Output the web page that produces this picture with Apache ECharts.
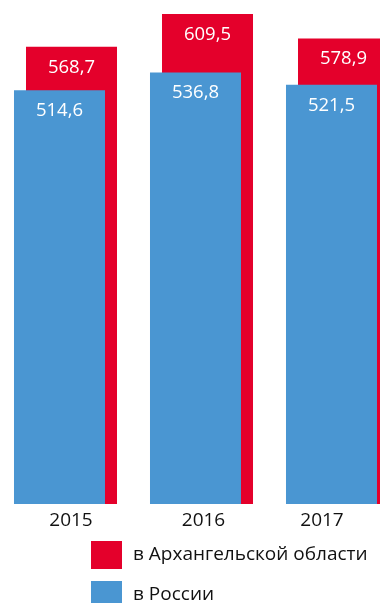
<!DOCTYPE html>
<html>
<head>
<meta charset="utf-8">
<script src="https://cdn.jsdelivr.net/npm/echarts@6/dist/echarts.min.js"></script>
<style>
html,body{margin:0;padding:0;background:#fff;}
#chart{width:380px;height:603px;}
</style>
</head>
<body>
<div id="chart"></div>
<script>
// годы и значения
const years = ['2015', '2016', '2017'];
const russia = [514.6, 536.8, 521.5];
const arkhangelsk = [568.7, 609.5, 578.9];
const seriesNames = ['в Архангельской области', 'в России'];

const RED = '#E4002B';
const BLUE = '#4A96D2';
const FONT = '"Open Sans", sans-serif';

// сдвиг подписей лет под столбцами
const yearPad = [[0, 0, 0, 11], [0, 0, 0, 4], [0, 31, 0, 0]];
const rich = {};
years.forEach((y, i) => {
	rich['y' + i] = {fontSize: 19, color: '#111', fontFamily: FONT, padding: yearPad[i]};
});

const fmt = p => p.value.toFixed(1).replace('.', ',');

function legendAt(name, top) {
	return {
		data: [name],
		left: 91,
		top: top,
		icon: 'rect',
		itemWidth: 31,
		itemHeight: 28,
		padding: 0,
		textStyle: {fontSize: 19, color: '#111', fontFamily: FONT, padding: [0, 0, 0, 6]}
	};
}

const option = {
	animation: false,
	grid: {left: -2.5, width: 408, top: 14, bottom: 99, outerBoundsMode: 'none', containLabel: false},
	legend: [legendAt(seriesNames[0], 541), legendAt(seriesNames[1], 581)],
	xAxis: {
		type: 'category',
		data: years,
		axisLine: {show: false},
		axisTick: {show: false},
		axisLabel: {
			margin: 7,
			formatter: (v, i) => '{y' + i + '|' + v + '}',
			rich: rich
		}
	},
	yAxis: {type: 'value', min: 0, max: 609.5, show: false, splitLine: {show: false}},
	series: [
		{
			name: seriesNames[1],
			type: 'bar',
			data: russia,
			barWidth: 91,
			barGap: '-86.8%',
			z: 3,
			itemStyle: {color: BLUE},
			label: {show: true, position: 'insideTop', distance: 11, color: '#fff', fontSize: 18.5, fontFamily: FONT, formatter: fmt}
		},
		{
			name: seriesNames[0],
			type: 'bar',
			data: arkhangelsk,
			barWidth: 91,
			z: 2,
			itemStyle: {color: RED},
			label: {show: true, position: 'insideTop', distance: 11, color: '#fff', fontSize: 18.5, fontFamily: FONT, formatter: fmt}
		}
	]
};

const myChart = echarts.init(document.getElementById('chart'));
myChart.setOption(option);
</script>
</body>
</html>
